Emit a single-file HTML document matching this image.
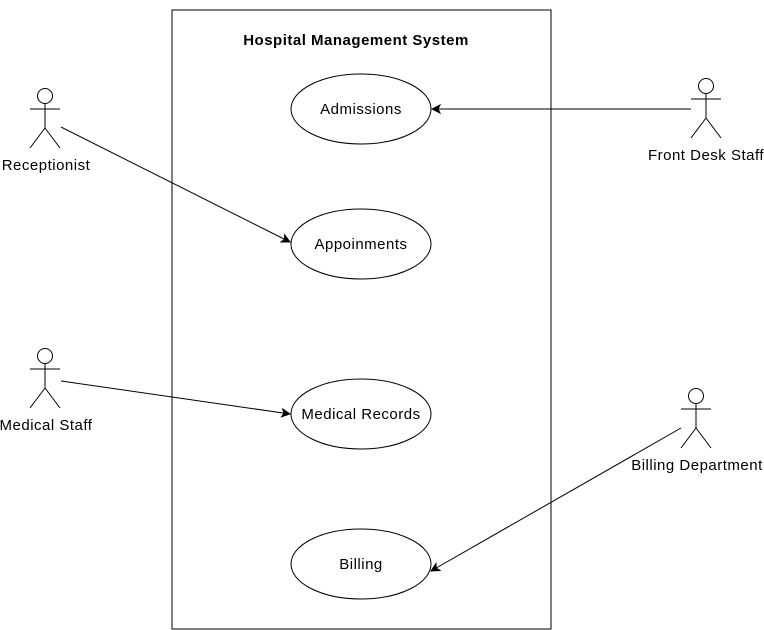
<!DOCTYPE html>
<html><head><style>body{margin:0;background:#fff}svg{display:block}text{font-family:"Liberation Sans",sans-serif;font-size:15px;letter-spacing:0.5px;fill:#000}</style></head><body>
<svg width="764" height="630" xmlns="http://www.w3.org/2000/svg">
<defs><marker id="a" markerWidth="10" markerHeight="10" refX="9" refY="5" orient="auto" markerUnits="userSpaceOnUse"><path d="M1,1 L9,5 L1,9 L3,5 Z" fill="#000" stroke="#000"/></marker></defs>
<rect x="172" y="10" width="379" height="619" fill="#fff" stroke="#000"/>
<text x="356" y="45" text-anchor="middle" font-weight="bold">Hospital Management System</text>
<g fill="#fff" stroke="#000">
<ellipse cx="361" cy="109" rx="70" ry="35"/>
<ellipse cx="361" cy="244" rx="70" ry="35"/>
<ellipse cx="361" cy="414" rx="70" ry="35"/>
<ellipse cx="361" cy="564" rx="70" ry="35"/>
</g>
<g text-anchor="middle">
<text x="361" y="114">Admissions</text>
<text x="361" y="249">Appoinments</text>
<text x="361" y="419">Medical Records</text>
<text x="361" y="569">Billing</text>
</g>
<g fill="none" stroke="#000">
<g transform="translate(45,88)"><circle cx="0" cy="8" r="7.5" fill="#fff"/><path d="M0,16V40M-15,21H15M0,40L-15,60M0,40L15,60"/></g>
<g transform="translate(706,78)"><circle cx="0" cy="8" r="7.5" fill="#fff"/><path d="M0,16V40M-15,21H15M0,40L-15,60M0,40L15,60"/></g>
<g transform="translate(45,348)"><circle cx="0" cy="8" r="7.5" fill="#fff"/><path d="M0,16V40M-15,21H15M0,40L-15,60M0,40L15,60"/></g>
<g transform="translate(696,388)"><circle cx="0" cy="8" r="7.5" fill="#fff"/><path d="M0,16V40M-15,21H15M0,40L-15,60M0,40L15,60"/></g>
<line x1="61" y1="127" x2="290" y2="242" marker-end="url(#a)"/>
<line x1="691" y1="109" x2="432" y2="109" marker-end="url(#a)"/>
<line x1="61" y1="381" x2="290" y2="414" marker-end="url(#a)"/>
<line x1="681" y1="428" x2="431" y2="571" marker-end="url(#a)"/>
</g>
<g text-anchor="middle">
<text x="46" y="170">Receptionist</text>
<text x="706" y="160">Front Desk Staff</text>
<text x="46" y="430">Medical Staff</text>
<text x="697" y="470">Billing Department</text>
</g>
</svg>
</body></html>
